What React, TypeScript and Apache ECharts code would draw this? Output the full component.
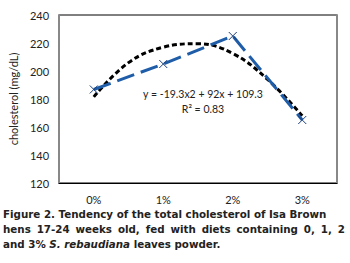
import React, { useEffect, useRef } from "react";
import * as echarts from "echarts";

const categories = ["0%", "1%", "2%", "3%"];
const cholesterol = [186.8, 205, 225, 165];
const trendX = [0, 0.5, 1, 1.5, 2, 2.5, 3];
const trendY = [181.5, 206, 217, 219.5, 212.5, 194, 168];
const yTicks = { min: 120, max: 240, interval: 20 };
const equationText = "y = -19.3x2 + 92x + 109.3";
const r2Text = "R² = 0.83";
const captionLine1 = "Figure 2. Tendency of the total cholesterol of Isa Brown";
const captionLine2Words = ["hens", "17-24", "weeks", "old,", "fed", "with", "diets", "containing", "0,", "1,", "2"];

export default function App() {
  const ref = useRef<HTMLDivElement>(null);
  useEffect(() => {
    if (!ref.current) return;
    const chart = echarts.init(ref.current, null, { renderer: "svg" });
    const tickFont = { fontFamily: "Lato", fontSize: 11, color: "#222" };
    const capFontSize = 10.3;
    const capStyle = {
      fontFamily: "DejaVu Sans",
      fontSize: capFontSize,
      fontWeight: "bold" as const,
      fill: "#222",
    };
    // justify line 2 across the caption width
    const capLeft = 3;
    const capRight = 345;
    const canvas = document.createElement("canvas");
    const ctx = canvas.getContext("2d")!;
    ctx.font = `bold ${capFontSize}px "DejaVu Sans"`;
    const widths = captionLine2Words.map((w) => ctx.measureText(w).width);
    const total = widths.reduce((a, b) => a + b, 0);
    const gap = (capRight - capLeft - total) / (captionLine2Words.length - 1);
    let cx = capLeft;
    const line2Elements = captionLine2Words.map((w, i) => {
      const el = {
        type: "text",
        x: cx,
        y: 229,
        style: { ...capStyle, text: w, verticalAlign: "middle" },
      };
      cx += widths[i] + gap;
      return el;
    });

    chart.setOption({
      animation: false,
      backgroundColor: "#fff",
      grid: {
        left: 53,
        right: 13,
        top: 15,
        bottom: 80,
        show: true,
        borderColor: "#000",
        borderWidth: 1,
      },
      xAxis: [
        {
          type: "category",
          data: categories,
          boundaryGap: true,
          axisLine: { show: true, onZero: false, lineStyle: { color: "#000", width: 1 } },
          axisTick: { show: false },
          axisLabel: { ...tickFont, margin: 11 },
          splitLine: { show: false },
        },
        {
          type: "value",
          min: -0.5,
          max: 3.5,
          show: false,
        },
      ],
      yAxis: [
        {
          type: "value",
          min: yTicks.min,
          max: yTicks.max,
          interval: yTicks.interval,
          axisLine: { show: true, onZero: false, lineStyle: { color: "#888", width: 2 } },
          axisTick: { show: false },
          axisLabel: { ...tickFont, margin: 10 },
          splitLine: { show: false },
          name: "cholesterol (mg/dL)",
          nameLocation: "middle",
          nameGap: 35,
          nameTextStyle: { fontFamily: "Lato", fontSize: 11, color: "#222" },
        },
        {
          type: "value",
          position: "right",
          min: yTicks.min,
          max: yTicks.max,
          interval: yTicks.interval,
          axisLine: { show: true, onZero: false, lineStyle: { color: "#888", width: 2 } },
          axisTick: { show: false },
          axisLabel: { show: false },
          splitLine: { show: false },
        },
      ],
      series: [
        {
          type: "line",
          xAxisIndex: 1,
          data: trendX.map((x, i) => [x, trendY[i]]),
          smooth: 0.4,
          symbol: "none",
          lineStyle: { color: "#000", width: 3, type: [5, 3] },
          z: 2,
        },
        {
          type: "line",
          data: cholesterol,
          symbol: "path://M0,0L10,10M10,0L0,10",
          symbolSize: 8,
          itemStyle: { color: "none", borderColor: "#1B3F78", borderWidth: 1 },
          lineStyle: { color: "#1F5DA8", width: 3, type: [18, 7] },
          z: 3,
        },
      ],
      graphic: [
        {
          type: "text",
          x: 203,
          y: 94,
          style: {
            text: equationText,
            fontFamily: "Lato",
            fontSize: 10.5,
            fill: "#222",
            align: "center",
            verticalAlign: "middle",
          },
        },
        {
          type: "text",
          x: 203,
          y: 109,
          style: {
            text: r2Text,
            fontFamily: "Lato",
            fontSize: 10.5,
            fill: "#222",
            align: "center",
            verticalAlign: "middle",
          },
        },
        {
          type: "text",
          x: capLeft,
          y: 214,
          style: { ...capStyle, text: captionLine1, verticalAlign: "middle" },
        },
        ...line2Elements,
        {
          type: "text",
          x: capLeft,
          y: 244,
          style: {
            ...capStyle,
            verticalAlign: "middle",
            text: "{n|and 3% }{i|S. rebaudiana}{n| leaves powder.}",
            rich: {
              n: { ...capStyle, fontStyle: "normal" },
              i: { ...capStyle, fontStyle: "italic" },
            },
          },
        },
      ],
    });
    return () => chart.dispose();
  }, []);
  return <div ref={ref} style={{ width: 350, height: 263, position: "absolute", left: 0, top: 0 }} />;
}
